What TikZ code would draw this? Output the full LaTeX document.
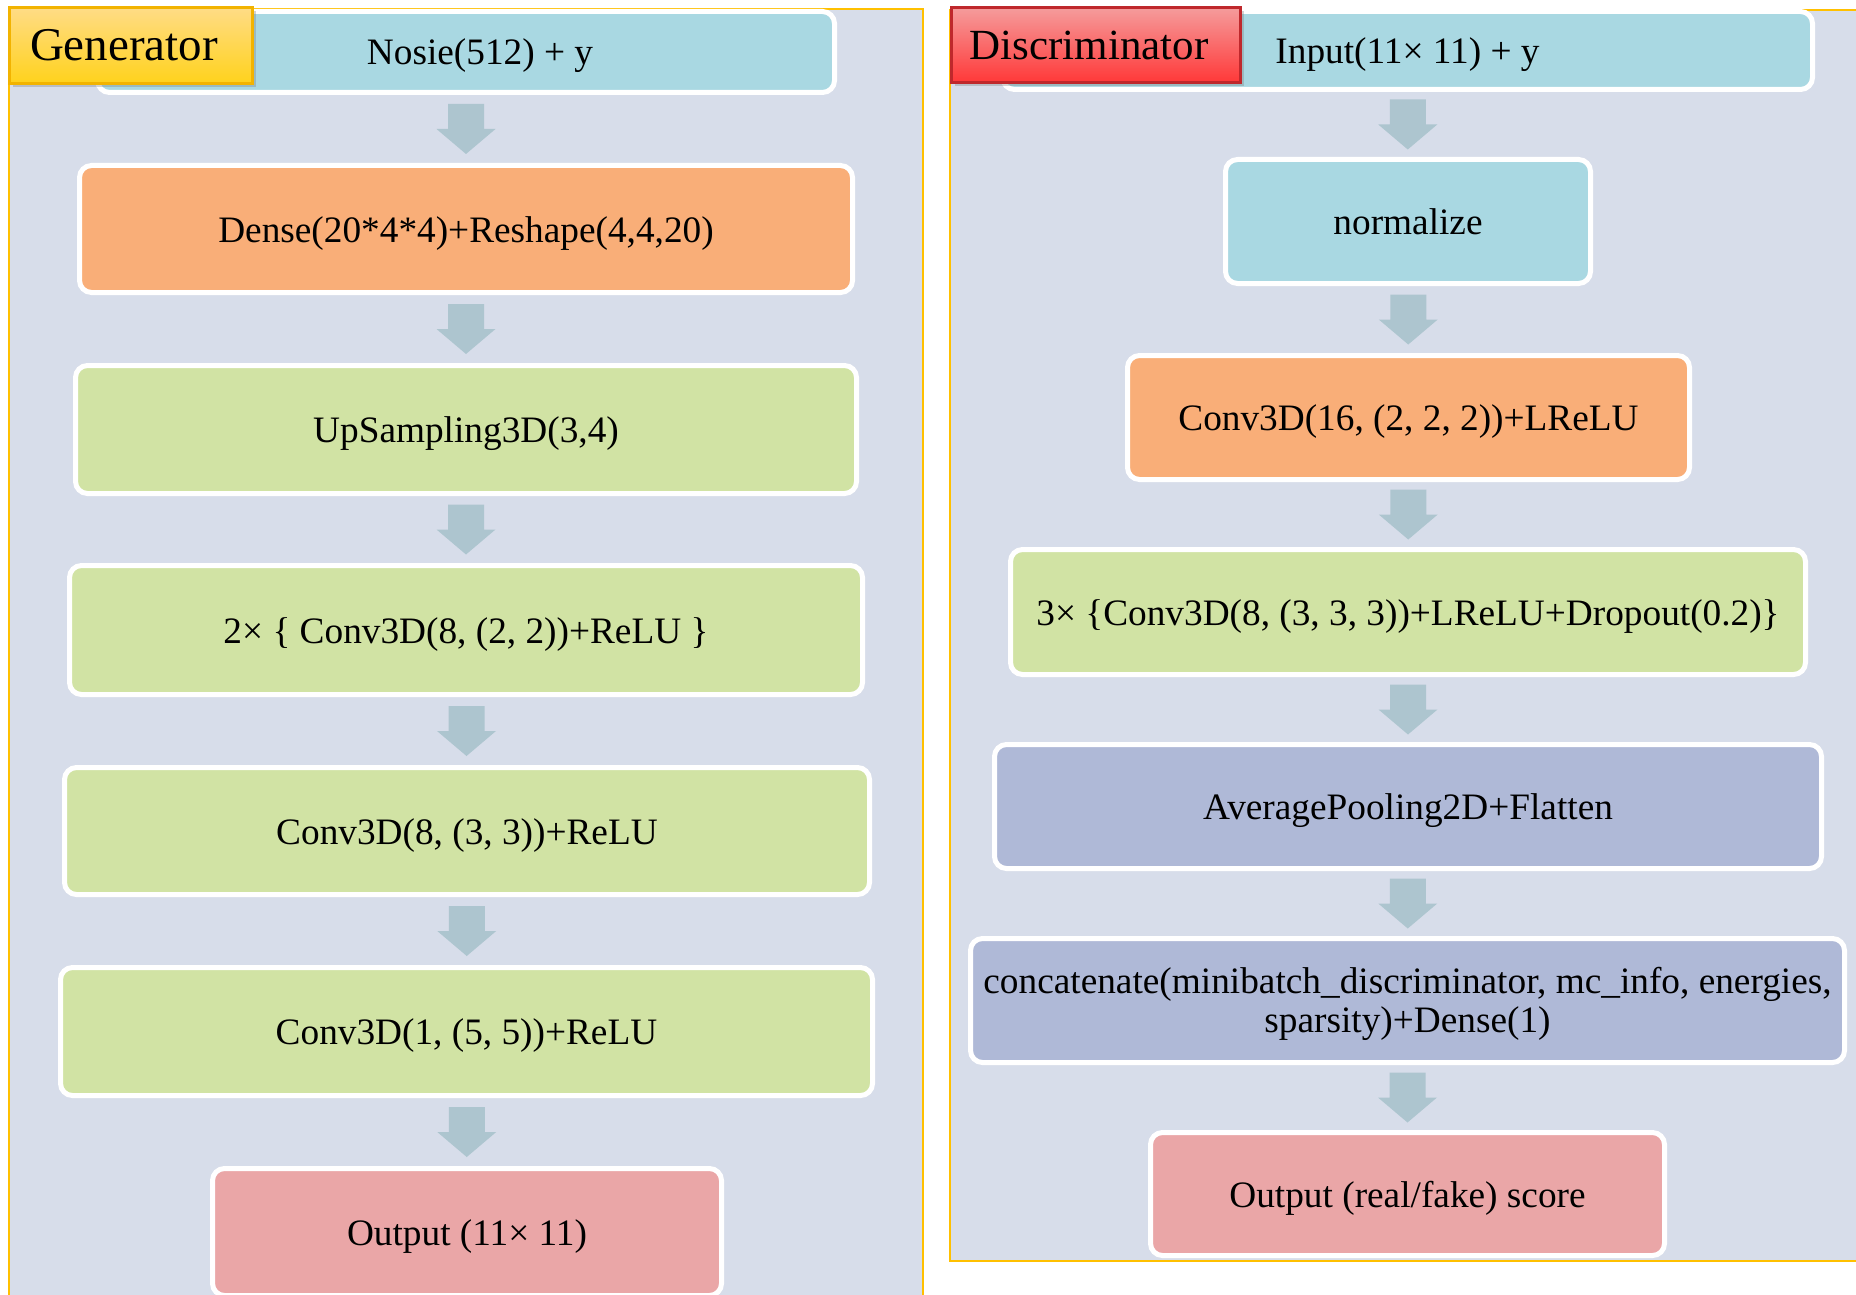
\documentclass[tikz,border=0pt]{standalone}
\usepackage{fontspec}
\setmainfont{Liberation Serif}
\usetikzlibrary{calc,shadows}
\definecolor{panelbg}{HTML}{D7DDEA}
\definecolor{panelbd}{HTML}{FFC000}
\definecolor{cblue}{HTML}{A9D8E2}
\definecolor{corange}{HTML}{F9AE78}
\definecolor{cgreen}{HTML}{D1E3A4}
\definecolor{cslate}{HTML}{AFB9D7}
\definecolor{cpink}{HTML}{EAA6A7}
\definecolor{carrow}{HTML}{ADC5CF}
\definecolor{gtop}{HTML}{FFDC86}
\definecolor{gbot}{HTML}{FFD21C}
\definecolor{gbd}{HTML}{F2B300}
\definecolor{dtop}{HTML}{F59C9C}
\definecolor{dbot}{HTML}{FF3838}
\definecolor{dbd}{HTML}{BF282C}
\tikzset{
  blkbase/.style={draw=white, line width=5pt, rounded corners=12pt, align=center,
    inner sep=0pt, text=black, font=\fontsize{37.3}{39}\selectfont},
  blk/.style={blkbase, text height=33pt, text depth=7pt},
  panel/.style={fill=panelbg, draw=panelbd, line width=2pt},
  tag/.style={line width=3pt, inner sep=0pt, text=black,
    drop shadow={opacity=0.35, shadow xshift=3pt, shadow yshift=-4pt}},
  arrowc/.style={fill=carrow},
}
\newcommand\flowarrow[2]{%
  \path ($(#1.south)!0.5!(#2.north)$) coordinate (m-#1);
  \fill[arrowc] ($(m-#1)+(-18,-25)$) -- ($(m-#1)+(18,-25)$) -- ($(m-#1)+(18,0)$)
    -- ($(m-#1)+(29.5,0)$) -- ($(m-#1)+(0,25)$) -- ($(m-#1)+(-29.5,0)$)
    -- ($(m-#1)+(-18,0)$) -- cycle;}
\begin{document}
\begin{tikzpicture}[x=1pt, y=-1pt]
\path[use as bounding box] (0,0) rectangle (1856,1295);
\clip (0,0) rectangle (1856,1295);
\fill[white] (0,0) rectangle (1856,1295);
% panels
\draw[panel] (9,9) rectangle (923,1320);
\draw[panel] (950,10) rectangle (1870,1261);
% generator column
\node[blk, fill=cblue,   minimum width=737, minimum height=81]  (nosie) at (466,52)   {\hspace*{28pt}Nosie(512) + y};
\node[blk, fill=corange, minimum width=773, minimum height=127] (dense) at (466,229)  {Dense(20*4*4)+Reshape(4,4,20)};
\node[blk, fill=cgreen,  minimum width=781, minimum height=128] (ups)   at (466,429.5){UpSampling3D(3,4)};
\node[blk, fill=cgreen,  minimum width=793, minimum height=129] (two)   at (466,630)  {2× \{ Conv3D(8, (2, 2))+ReLU \}};
\node[blk, fill=cgreen,  minimum width=805, minimum height=127] (ceight) at (467,831) {Conv3D(8, (3, 3))+ReLU};
\node[blk, fill=cgreen,  minimum width=812, minimum height=128] (cone)  at (466.5,1031.5) {Conv3D(1, (5, 5))+ReLU};
\node[blk, fill=cpink,   minimum width=509, minimum height=127] (gout)  at (467,1232) {Output (11× 11)};
\flowarrow{nosie}{dense}
\flowarrow{dense}{ups}
\flowarrow{ups}{two}
\flowarrow{two}{ceight}
\flowarrow{ceight}{cone}
\flowarrow{cone}{gout}
% discriminator column
\node[blk, fill=cblue,   minimum width=810, minimum height=78]  (inp)   at (1407.5,50.5) {Input(11× 11) + y};
\node[blk, fill=cblue,   minimum width=365, minimum height=124] (norm)  at (1408,221.5)  {normalize};
\node[blk, fill=corange, minimum width=562, minimum height=124] (csixteen) at (1408.5,417.5) {Conv3D(16, (2, 2, 2))+LReLU};
\node[blk, fill=cgreen,  minimum width=795, minimum height=125] (three) at (1408,612)    {3× \{Conv3D(8, (3, 3, 3))+LReLU+Dropout(0.2)\}};
\node[blk, fill=cslate,  minimum width=827, minimum height=124] (avg)   at (1408,806.5)  {AveragePooling2D+Flatten};
\node[blkbase, fill=cslate, minimum width=874, minimum height=124] (concat) at (1407.5,1000.5) {\rule{0pt}{33pt}concatenate(minibatch\_discriminator, mc\_info, energies,\\sparsity)+Dense(1)};
\node[blk, fill=cpink,   minimum width=514, minimum height=123] (dout)  at (1407.5,1194) {Output (real/fake) score};
\flowarrow{inp}{norm}
\flowarrow{norm}{csixteen}
\flowarrow{csixteen}{three}
\flowarrow{three}{avg}
\flowarrow{avg}{concat}
\flowarrow{concat}{dout}
% tags
\node[tag, draw=gbd, top color=gtop, bottom color=gbot, minimum width=243, minimum height=76,
  font=\fontsize{47}{50}\selectfont] (gtag) at (131,45.5) {Generator\hspace*{14pt}};
\node[tag, draw=dbd, top color=dtop, bottom color=dbot, minimum width=289, minimum height=75,
  font=\fontsize{43}{46}\selectfont] (dtag) at (1096,45) {Discriminator\hspace*{14pt}};
\end{tikzpicture}
\end{document}
